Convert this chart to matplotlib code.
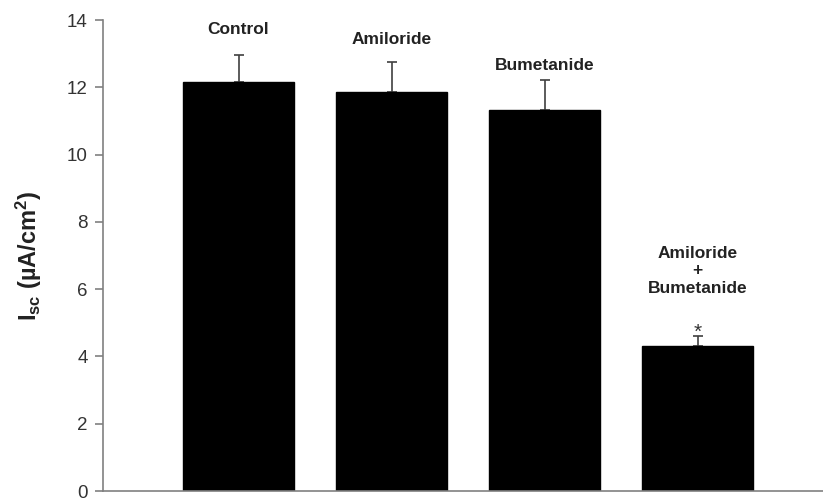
import matplotlib
matplotlib.use("Agg")
import matplotlib.pyplot as plt

categories = ["Control", "Amiloride", "Bumetanide", "Amiloride\n+\nBumetanide"]
values = [12.17, 11.87, 11.31, 4.32]
errors = [0.80, 0.87, 0.92, 0.30]
yticks = [0, 2, 4, 6, 8, 10, 12, 14]

plt.rcParams['font.family'] = ['Liberation Sans', 'DejaVu Sans']
plt.rcParams['mathtext.fontset'] = 'custom'
plt.rcParams['mathtext.rm'] = 'Liberation Sans:bold'
plt.rcParams['mathtext.bf'] = 'Liberation Sans:bold'
plt.rcParams['mathtext.it'] = 'Liberation Sans:bold'

fig = plt.figure(figsize=(8.23, 5), dpi=100)
ax = fig.add_axes([103/823, 9/500, 1 - 103/823, 471/500])

x = list(range(len(categories)))
ax.bar(x, values, width=0.725, color='black', edgecolor='black', zorder=2)
ax.errorbar(x, values, yerr=[[0]*len(errors), errors], fmt='none',
            ecolor='#404040', elinewidth=1.2, capsize=3.5, capthick=1.2, zorder=1)

# label centre offsets above the error-bar tops (layout only)
label_offsets = [0.75, 0.68, 0.42, 1.93]
for xi, v, e, lab, off in zip(x, values, errors, categories, label_offsets):
    top = v + e
    if xi == 3:
        ax.text(xi, top + 0.1, "*", ha='center', va='center', fontsize=15, color='#333333')
    ax.text(xi, top + off, lab, ha='center', va='center', fontsize=12.5,
            fontweight='bold', color='#222222', linespacing=1.2)

ax.set_xlim(-0.886, 3.82)
ax.set_ylim(0, 14)
ax.set_yticks(yticks)
ax.set_xticks([])
for s in ['top', 'right']:
    ax.spines[s].set_visible(False)
for s in ['left', 'bottom']:
    ax.spines[s].set_color('#808080')
    ax.spines[s].set_linewidth(1.2)
ax.tick_params(axis='y', direction='out', length=6, width=1.2, color='#808080',
               labelsize=13.5, labelcolor='#333333', pad=5)

ax.set_ylabel(r'$\mathregular{I_{sc}}$ (µA/cm$^\mathregular{2}$)', fontsize=17,
              fontweight='bold', color='#222222')
ax.yaxis.set_label_coords((44 - 103) / 720, 0.5)

fig.savefig("out.png", dpi=100)
